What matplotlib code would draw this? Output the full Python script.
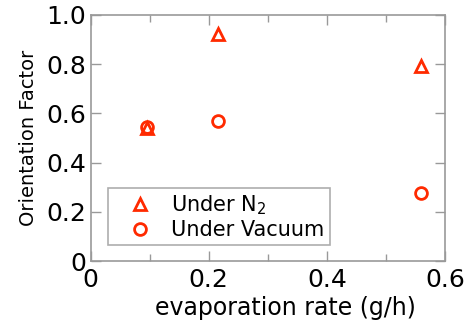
import matplotlib
matplotlib.use("Agg")
import matplotlib.pyplot as plt
from matplotlib.ticker import MultipleLocator

rate = [0.095, 0.216, 0.559]
n2 = [0.54, 0.92, 0.793]
vac_rate = [0.095, 0.216, 0.559]
vacuum = [0.544, 0.567, 0.275]

red = '#ff2a00'
grey = '#999999'

fig = plt.figure(figsize=(4.72, 3.2), dpi=100)
ax = fig.add_axes([0.192, 0.184, 0.751, 0.77])

ax.plot(rate, n2, linestyle='none', marker='^', ms=8.5, mfc='none', mec=red, mew=2, label='Under N$_2$')
ax.plot(vac_rate, vacuum, linestyle='none', marker='o', ms=8.5, mfc='none', mec=red, mew=2, label='Under Vacuum')

ax.set_xlim(0, 0.6)
ax.set_ylim(0, 1.0)
ax.xaxis.set_minor_locator(MultipleLocator(0.1))
ax.set_xticks([0, 0.2, 0.4, 0.6], ['0', '0.2', '0.4', '0.6'])
ax.set_yticks([0, 0.2, 0.4, 0.6, 0.8, 1.0], ['0', '0.2', '0.4', '0.6', '0.8', '1.0'])
ax.tick_params(which='both', direction='in', top=True, right=True, color=grey, labelsize=18)
ax.tick_params(axis='x', pad=5)
ax.tick_params(axis='y', pad=3)
ax.tick_params(which='major', length=7, width=1)
ax.tick_params(which='minor', length=5, width=1)
for s in ax.spines.values():
    s.set_color(grey)
    s.set_linewidth(1.2)

ax.set_xlabel('evaporation rate (g/h)', fontsize=17, labelpad=3, x=0.55)
ax.set_ylabel('Orientation Factor', fontsize=14, labelpad=6)

leg = ax.legend(loc='lower left', bbox_to_anchor=(0.049, 0.065), borderaxespad=0, fontsize=15,
                frameon=True, fancybox=False, edgecolor=grey, handlelength=2.58,
                handletextpad=0.2, borderpad=0.25, labelspacing=0.15)
leg.get_frame().set_linewidth(1.2)

fig.savefig('out.png', dpi=100)
